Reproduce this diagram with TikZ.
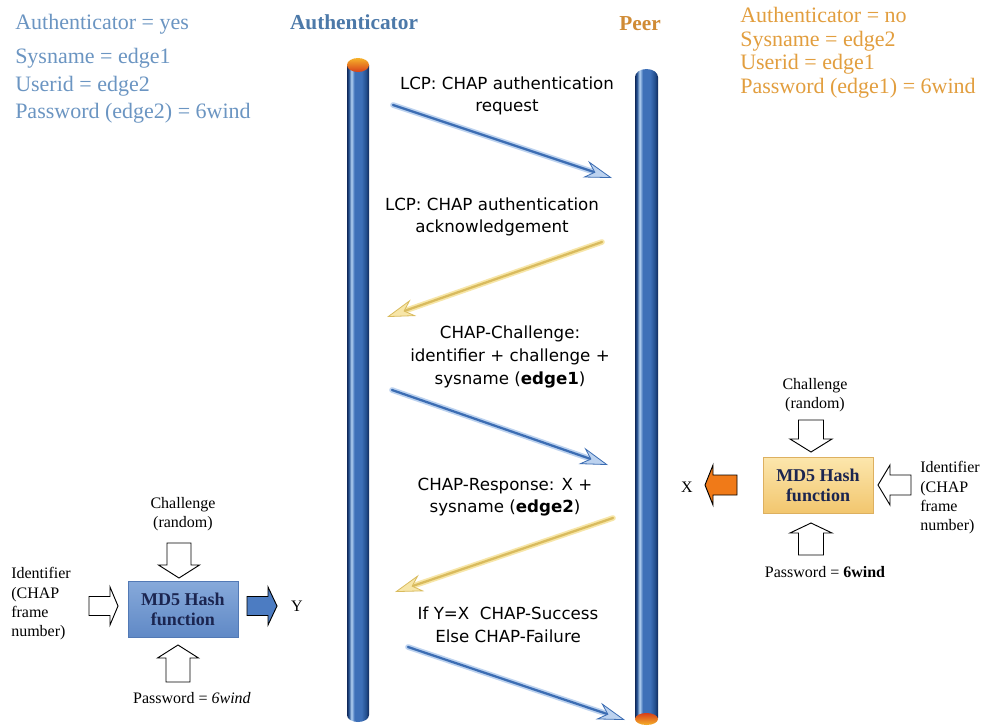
\documentclass[tikz,border=0pt]{standalone}
\usepackage{fontspec}
\setmainfont{Liberation Serif}
\newfontfamily\msgfont{DejaVu Sans}
\usetikzlibrary{arrows.meta}

\definecolor{authhead}{HTML}{4C79A9}
\definecolor{authtext}{HTML}{6B95C2}
\definecolor{peerhead}{HTML}{D08B35}
\definecolor{peertext}{HTML}{E29E3E}
\definecolor{pnavy}{HTML}{10295A}
\definecolor{pmid}{HTML}{3E70B8}
\definecolor{plight}{HTML}{B4D2F2}
\definecolor{pdark}{HTML}{24508F}
\definecolor{msgblue}{HTML}{3C6DB3}
\definecolor{msgbluepale}{HTML}{BCD2EF}
\definecolor{msgyellow}{HTML}{D9BB5E}
\definecolor{msgyellowpale}{HTML}{F7E6A8}
\definecolor{capyellow}{HTML}{F6B22A}
\definecolor{capred}{HTML}{D8401A}
\definecolor{hashbluetop}{HTML}{86A9DA}
\definecolor{hashbluebot}{HTML}{6089C6}
\definecolor{hashblueedge}{HTML}{5279B5}
\definecolor{hashyeltop}{HTML}{FCE6AC}
\definecolor{hashyelbot}{HTML}{F2C66E}
\definecolor{hashyeledge}{HTML}{DDB060}
\definecolor{hashtext}{HTML}{1B2550}
\definecolor{outblue}{HTML}{4C7CC2}
\definecolor{outorange}{HTML}{F07A18}

% cylinder body: dark rims, light highlight left of centre
\pgfdeclarehorizontalshading{pillarshade}{100bp}{%
  color(0bp)=(pnavy); color(25bp)=(pnavy); color(29bp)=(pdark);
  color(35bp)=(plight); color(42bp)=(pmid); color(58bp)=(pmid);
  color(68bp)=(pdark); color(75bp)=(pnavy); color(100bp)=(pnavy)}

\tikzset{
  toptext/.style={font=\fontsize{16.5pt}{20pt}\selectfont, inner sep=0pt, anchor=base west},
  headtext/.style={font=\fontsize{16pt}{18pt}\selectfont\bfseries, inner sep=0pt},
  msgtext/.style={font=\msgfont\fontsize{12.5pt}{17pt}\selectfont, align=center, inner sep=0pt},
  smalltext/.style={font=\fontsize{12pt}{14.5pt}\selectfont, inner sep=0pt},
  hashbox/.style={font=\fontsize{13.5pt}{15.5pt}\selectfont\bfseries, text=hashtext,
    align=center, minimum width=82.5pt, minimum height=41.5pt, inner sep=0pt, line width=0.6pt},
  msgblueglow/.style={line width=4.2pt, draw=msgbluepale, line cap=round, shorten >=12pt},
  msgbluecore/.style={line width=1.7pt, draw=msgblue, line cap=round,
    -{Stealth[length=21pt,width=13pt,inset=7pt,fill=msgbluepale,color=msgblue,line width=0.6pt]}},
  msgyelglow/.style={line width=4.2pt, draw=msgyellowpale, line cap=round, shorten >=12pt},
  msgyelcore/.style={line width=1.7pt, draw=msgyellow, line cap=round,
    -{Stealth[length=21pt,width=13pt,inset=7pt,fill=msgyellowpale,color=msgyellow,line width=0.6pt]}},
  pics/blockarr/.style n args={4}{code={%
    \path[pic actions] (0,-#3) -- (#1,-#3) -- (#1,-#4) -- (#2,0) -- (#1,#4) -- (#1,#3) -- (0,#3) -- cycle;}},
  hollowarr/.style={draw=black, fill=white, line width=0.7pt},
}

\begin{document}
\begin{tikzpicture}[x=0.75pt, y=-0.75pt]
\useasboundingbox (0,0) rectangle (997,726);
\fill[white] (0,0) rectangle (997,726);

% ---- parameter lists of the two ends
\node[toptext, text=authtext] (ayes)  at (15,29)  {Authenticator = yes};
\node[toptext, text=authtext] (asys)  at (15,63)  {Sysname = edge1};
\node[toptext, text=authtext] (auser) at (15,91)  {Userid = edge2};
\node[toptext, text=authtext] (apass) at (15,118) {Password (edge2) = 6wind};

\node[toptext, text=peertext] (pno)   at (740,22) {Authenticator = no};
\node[toptext, text=peertext] (psys)  at (740,46) {Sysname = edge2};
\node[toptext, text=peertext] (puser) at (740,69) {Userid = edge1};
\node[toptext, text=peertext] (ppass) at (740,93) {Password (edge1) = 6wind};

\node[headtext, text=authhead, anchor=base] (hauth) at (354,29) {Authenticator};
\node[headtext, text=peerhead, anchor=base] (hpeer) at (640,30) {Peer};

% ---- the two timelines
\shade[shading=pillarshade] (347,65) -- (347,715)
  arc[start angle=180, end angle=0, x radius=11, y radius=7] -- (369,65) -- cycle;
\shade[top color=capyellow, bottom color=capred] (358,65) ellipse[x radius=11, y radius=7];

\shade[shading=pillarshade] (635,718) -- (635,77)
  arc[start angle=180, end angle=360, x radius=11.5, y radius=8] -- (658,718) -- cycle;
\shade[top color=capred, bottom color=capyellow] (646.5,719) ellipse[x radius=11.5, y radius=6];

% ---- messages
\coordinate (m1s) at (393,105); \coordinate (m1e) at (612,178);
\coordinate (m2s) at (602,242); \coordinate (m2e) at (387,317);
\coordinate (m3s) at (392,390); \coordinate (m3e) at (608,465);
\coordinate (m4s) at (613,518); \coordinate (m4e) at (395,592);
\coordinate (m5s) at (408,647); \coordinate (m5e) at (625,720);

\draw[msgblueglow] (m1s) -- (m1e);  \draw[msgbluecore] (m1s) -- (m1e);
\draw[msgyelglow]  (m2s) -- (m2e);  \draw[msgyelcore]  (m2s) -- (m2e);
\draw[msgblueglow] (m3s) -- (m3e);  \draw[msgbluecore] (m3s) -- (m3e);
\draw[msgyelglow]  (m4s) -- (m4e);  \draw[msgyelcore]  (m4s) -- (m4e);
\draw[msgblueglow] (m5s) -- (m5e);  \draw[msgbluecore] (m5s) -- (m5e);

\node[msgtext] (t1) at (507,96) {LCP: CHAP authentication\\request};
\node[msgtext] (t2) at (492,217) {LCP: CHAP authentication\\acknowledgement};
\node[msgtext] (t3) at (510,357) {CHAP-Challenge:\\identifier + challenge +\\sysname (\textbf{edge1})};
\node[msgtext] (t4) at (505,497) {CHAP-Response: X +\\sysname (\textbf{edge2})};
\node[msgtext] (t5) at (508,625) {If Y=X\ \ CHAP-Success\\Else CHAP-Failure};

% ---- hash computation at the authenticator
\node[hashbox, top color=hashbluetop, bottom color=hashbluebot, draw=hashblueedge] (hashA) at (183,609.5) {MD5 Hash\\function};
\node[smalltext, align=center] (chalA) at (183,514) {Challenge\\(random)};
\node[smalltext, align=left, anchor=west] (idA) at (11,604) {Identifier\\(CHAP\\frame\\number)};
\node[smalltext] (passA) at (192,698) {Password = \textit{6wind}};
\node[smalltext] (outY) at (297,606) {Y};
\pic[hollowarr, rotate=-90] at (179,543) {blockarr={22}{35}{12}{20.5}};
\pic[hollowarr] at (89,606) {blockarr={21}{29}{9.5}{19}};
\pic[hollowarr, rotate=90] at (178,682) {blockarr={24}{37}{12}{20.5}};
\pic[draw=black, fill=outblue, line width=0.7pt] at (247,606) {blockarr={21}{30}{9.5}{19}};

% ---- hash computation at the peer
\node[hashbox, top color=hashyeltop, bottom color=hashyelbot, draw=hashyeledge] (hashP) at (818,485.5) {MD5 Hash\\function};
\node[smalltext, align=center] (chalP) at (815,395) {Challenge\\(random)};
\node[smalltext, align=left, anchor=west] (idP) at (920,498) {Identifier\\(CHAP\\frame\\number)};
\node[smalltext] (passP) at (825,572) {Password = \textbf{6wind}};
\node[smalltext] (outX) at (687,487) {X};
\pic[hollowarr, rotate=-90] at (811,420) {blockarr={19}{32}{12.5}{21}};
\pic[hollowarr, rotate=180] at (911,485) {blockarr={21}{33}{10}{20}};
\pic[hollowarr, rotate=90] at (811,555) {blockarr={22}{32}{12.5}{21}};
\pic[draw=black, fill=outorange, line width=0.7pt, rotate=180] at (737,485) {blockarr={24}{32}{10}{20}};
\end{tikzpicture}
\end{document}
